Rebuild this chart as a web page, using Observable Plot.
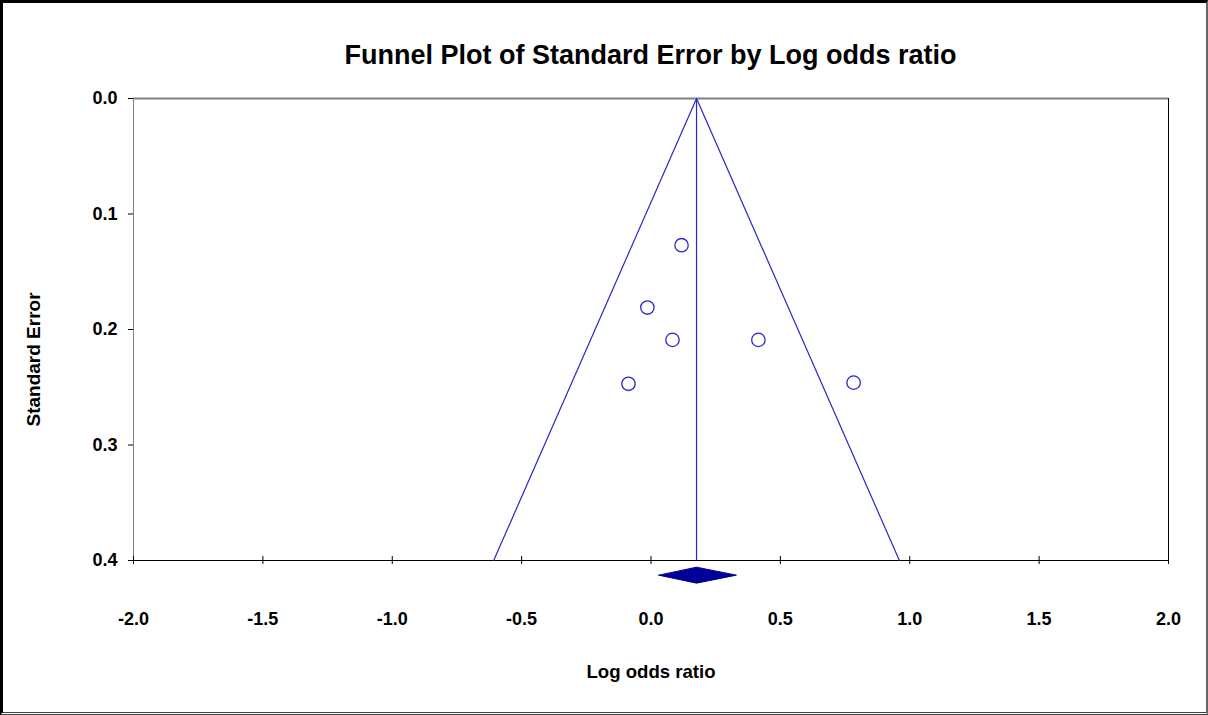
<!DOCTYPE html>
<html><head><meta charset="utf-8">
<script src="https://cdn.jsdelivr.net/npm/d3@7"></script>
<script src="https://cdn.jsdelivr.net/npm/@observablehq/plot@0.6"></script>
<style>
body{margin:0;background:#fff;}
#wrap{position:relative;width:1208px;height:715px;overflow:hidden;background:#fff;font-family:'Liberation Sans',Arial,sans-serif;}
#title{box-sizing:border-box;height:76px;padding:42px 40px 0 133px;font-size:27px;line-height:27px;font-weight:bold;text-align:center;color:#000;white-space:nowrap;}
#frame{position:absolute;left:0;top:0;width:1208px;height:715px;box-sizing:border-box;border-top:3px solid #000;border-left:3px solid #000;border-right:2px solid #666;border-bottom:3px double #444;pointer-events:none;}
</style></head>
<body><div id="wrap"><div id="title">Funnel Plot of Standard Error by Log odds ratio</div><div id="chart"></div><div id="frame"></div></div>
<script>
// Study estimates (log odds ratio) and standard errors
const studyLogOR = [0.118, -0.014, 0.083, 0.415, -0.087, 0.783];
const studySE    = [0.127, 0.181, 0.209, 0.209, 0.247, 0.246];
// Pooled estimate and its confidence interval (diamond)
const pooledLogOR = 0.176;
const pooledLower = 0.03;
const pooledUpper = 0.33;
// Axis ticks
const xTicks = [-2, -1.5, -1, -0.5, 0, 0.5, 1, 1.5, 2];
const yTicks = [0, 0.1, 0.2, 0.3, 0.4];
const seMax = 0.4;
const z = 1.96;

const blue = "#2828c8";
const studies = studyLogOR.map((x, i) => ({x, se: studySE[i]}));
const funnel = [
  {x: pooledLogOR - z * seMax, se: seMax},
  {x: pooledLogOR, se: 0},
  {x: pooledLogOR + z * seMax, se: seMax}
];
const dY = 0.4127, dH = 0.0069; // diamond drawn just below the axis
const diamond = [
  {x: pooledLower, se: dY},
  {x: pooledLogOR, se: dY - dH},
  {x: pooledUpper, se: dY},
  {x: pooledLogOR, se: dY + dH},
  {x: pooledLower, se: dY}
];

const chart = Plot.plot({
  width: 1208,
  height: 639,
  marginLeft: 133,
  marginRight: 40,
  marginTop: 22,
  marginBottom: 155,
  style: "font-family:'Liberation Sans',Arial,sans-serif;font-size:18px;font-weight:bold;background:transparent;overflow:visible;color:#000;",
  x: {domain: [-2, 2], label: null},
  y: {domain: [0, 0.4], reverse: true, label: null},
  marks: [
    Plot.ruleY([0], {stroke: "#808080", strokeWidth: 2}),
    Plot.ruleX([-2], {stroke: "#808080", strokeWidth: 1}),
    Plot.ruleX([2], {stroke: "#000", strokeWidth: 1}),
    Plot.ruleY([seMax], {stroke: "#000", strokeWidth: 1}),
    Plot.ruleX(xTicks, {y1: seMax, y2: seMax, insetTop: -4, insetBottom: -4, stroke: "#000"}),
    Plot.axisX(xTicks, {tickSize: 0, tickPadding: 52, tickFormat: d => d.toFixed(1), label: null, fontWeight: "bold"}),
    Plot.axisY(yTicks, {tickSize: 5, tickPadding: 11, tickFormat: d => d.toFixed(1), label: null, fontWeight: "bold"}),
    Plot.line(funnel, {x: "x", y: "se", stroke: blue, strokeWidth: 1.2}),
    Plot.ruleX([pooledLogOR], {y1: 0, y2: seMax, stroke: blue, strokeWidth: 1.2}),
    Plot.line(diamond, {x: "x", y: "se", fill: "#000099", stroke: "#000099", strokeWidth: 1}),
    Plot.dot(studies, {x: "x", y: "se", r: 6.7, stroke: blue, fill: "white", strokeWidth: 1.3}),
    Plot.text(["Standard Error"], {frameAnchor: "left", textAnchor: "middle", lineAnchor: "middle", rotate: -90, dx: -100, dy: 30, fontSize: 19, fontWeight: "bold"}),
    Plot.text(["Log odds ratio"], {frameAnchor: "bottom", dy: 112, lineAnchor: "middle", fontSize: 18.6, fontWeight: "bold"})
  ]
});
document.getElementById("chart").appendChild(chart);
</script>
</body></html>
